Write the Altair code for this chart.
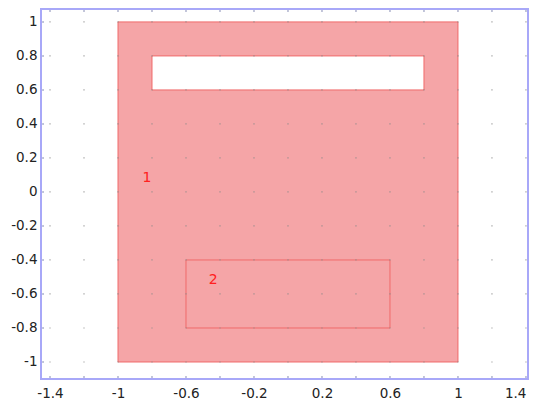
import altair as alt
import pandas as pd

# geometry (data coordinates)
outer = {"x": -1.0, "x2": 1.0, "y": -1.0, "y2": 1.0}
hole = {"x": -0.8, "x2": 0.8, "y": 0.6, "y2": 0.8}
inner = {"x": -0.6, "x2": 0.6, "y": -0.8, "y2": -0.4}
label_text = ["1", "2"]
label_x = [-0.83, -0.44]
label_y = [0.08, -0.52]
grid_x = [-1.4, -1.2, -1.0, -0.8, -0.6, -0.4, -0.2, 0.0, 0.2, 0.4, 0.6, 0.8, 1.0, 1.2, 1.4]
grid_y = [-1.0, -0.8, -0.6, -0.4, -0.2, 0.0, 0.2, 0.4, 0.6, 0.8, 1.0]
x_min, x_max = -1.453, 1.412
y_min, y_max = -1.1, 1.076

RED = "#f06a6a"
FILL = "#f5a5a7"

xs = alt.Scale(domain=[x_min, x_max], nice=False, zero=False)
ys = alt.Scale(domain=[y_min, y_max], nice=False, zero=False)

def xaxis():
    return alt.Axis(values=grid_x, title=None, grid=False, domain=False, ticks=False,
                    labelExpr="abs(round(datum.value*10)) % 4 == 2 ? '' + round(datum.value*10)/10 : ''",
                    labelAlign={"condition": {"test": "datum.value > 1.3", "value": "right"}, "value": "center"},
                    labelFont="DejaVu Sans", labelFontSize=13.5, labelColor="#222222",
                    labelPadding=7, labelOverlap=False)

def yaxis():
    return alt.Axis(values=grid_y, title=None, grid=False, domain=False, ticks=False,
                    labelExpr="'' + round(datum.value*10)/10",
                    labelFont="DejaVu Sans", labelFontSize=13.5, labelColor="#222222",
                    labelPadding=4, labelOverlap=False)

def X(f):
    return alt.X(f, scale=xs, axis=xaxis())

def Y(f):
    return alt.Y(f, scale=ys, axis=yaxis())

outer_c = alt.Chart(pd.DataFrame([outer])).mark_rect(fill=FILL, stroke=RED, strokeWidth=1).encode(
    x=X("x:Q"), x2="x2:Q", y=Y("y:Q"), y2="y2:Q")
hole_c = alt.Chart(pd.DataFrame([hole])).mark_rect(fill="white", stroke=RED, strokeWidth=1).encode(
    x=X("x:Q"), x2="x2:Q", y=Y("y:Q"), y2="y2:Q")
inner_c = alt.Chart(pd.DataFrame([inner])).mark_rect(fillOpacity=0, stroke=RED, strokeWidth=1).encode(
    x=X("x:Q"), x2="x2:Q", y=Y("y:Q"), y2="y2:Q")

gx, gy = [], []
for a in grid_x:
    for b in grid_y:
        gx.append(a)
        gy.append(b)
grid_df = pd.DataFrame({"x": gx, "y": gy})
grid_c = alt.Chart(grid_df).mark_square(size=1.5, color="#888888", opacity=0.8).encode(
    x=X("x:Q"), y=Y("y:Q"))

# small inward tick dots just inside the frame
tx = grid_x + grid_x + [x_min + 0.012] * len(grid_y)
ty = [y_min + 0.012] * len(grid_x) + [y_max - 0.012] * len(grid_x) + grid_y
tick_df = pd.DataFrame({"x": tx, "y": ty})
tick_c = alt.Chart(tick_df).mark_square(size=2, color="#7078a8", opacity=0.8).encode(
    x=X("x:Q"), y=Y("y:Q"))

lab_df = pd.DataFrame({"t": label_text, "x": label_x, "y": label_y})
lab_c = alt.Chart(lab_df).mark_text(color="#ff2020", font="DejaVu Sans", fontSize=14).encode(
    x=X("x:Q"), y=Y("y:Q"), text="t:N")

chart = alt.layer(outer_c, hole_c, inner_c, grid_c, tick_c, lab_c).properties(
    width=487, height=370,
    background="white",
    autosize=alt.AutoSizeParams(type="none"),
    padding={"left": 33, "top": 1, "right": 1, "bottom": 21},
).configure_view(stroke="#a8a8f8", strokeWidth=2)

chart.save("out.html", embed_options={"renderer": "svg", "actions": False})
